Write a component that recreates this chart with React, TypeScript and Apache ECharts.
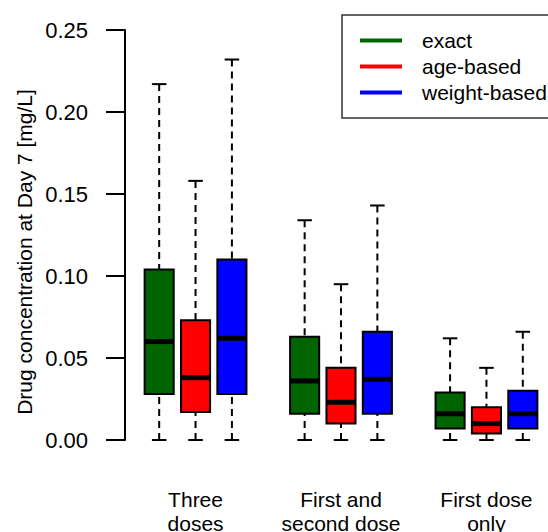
import React, { useEffect, useRef } from "react";
import * as echarts from "echarts";

const groups = ["Three\ndoses", "First and\nsecond dose", "First dose\nonly"];
const methods = ["exact", "age-based", "weight-based"];
const groupPositions = [2, 6, 10];
// [min, q1, median, q3, max] per group
const exactStats = [
  [0, 0.028, 0.060, 0.104, 0.217],
  [0, 0.016, 0.036, 0.063, 0.134],
  [0, 0.007, 0.016, 0.029, 0.062],
];
const ageStats = [
  [0, 0.017, 0.038, 0.073, 0.158],
  [0, 0.010, 0.023, 0.044, 0.095],
  [0, 0.004, 0.010, 0.020, 0.044],
];
const weightStats = [
  [0, 0.028, 0.062, 0.110, 0.232],
  [0, 0.016, 0.037, 0.066, 0.143],
  [0, 0.007, 0.016, 0.030, 0.066],
];
const allStats = [exactStats, ageStats, weightStats];
const colors = ["#006400", "#FF0000", "#0000FF"];
const FONT = "'Liberation Sans', Arial, Helvetica, sans-serif";

function makeRender(color: string) {
  return (params: any, api: any) => {
    const x = api.value(0);
    const [xc, yMin] = api.coord([x, api.value(1)]);
    const yQ1 = api.coord([x, api.value(2)])[1];
    const yMed = api.coord([x, api.value(3)])[1];
    const yQ3 = api.coord([x, api.value(4)])[1];
    const yMax = api.coord([x, api.value(5)])[1];
    const halfW = api.size([0.8, 0])[0] / 2;
    const capHalf = api.size([0.4, 0])[0] / 2;
    const dash = { stroke: "#000", lineWidth: 2, lineDash: [7, 5] };
    const solid = { stroke: "#000", lineWidth: 2 };
    return {
      type: "group",
      children: [
        { type: "line", shape: { x1: xc, y1: yMin, x2: xc, y2: yQ1 }, style: dash },
        { type: "line", shape: { x1: xc, y1: yMax, x2: xc, y2: yQ3 }, style: dash },
        { type: "line", shape: { x1: xc - capHalf, y1: yMin, x2: xc + capHalf, y2: yMin }, style: solid },
        { type: "line", shape: { x1: xc - capHalf, y1: yMax, x2: xc + capHalf, y2: yMax }, style: solid },
        {
          type: "rect",
          shape: { x: xc - halfW, y: yQ3, width: halfW * 2, height: yQ1 - yQ3 },
          style: { fill: color, stroke: "#000", lineWidth: 2 },
        },
        {
          type: "line",
          shape: { x1: xc - halfW, y1: yMed, x2: xc + halfW, y2: yMed },
          style: { stroke: "#000", lineWidth: 5 },
        },
      ],
    };
  };
}

export default function App() {
  const ref = useRef<HTMLDivElement>(null);
  useEffect(() => {
    document.body.style.margin = "0";
    const chart = echarts.init(ref.current!, null, { renderer: "svg" });
    const series = methods.map((name, m) => ({
      name,
      type: "custom",
      itemStyle: { color: colors[m] },
      renderItem: makeRender(colors[m]),
      encode: { x: 0, y: [1, 2, 3, 4, 5] },
      data: allStats[m].map((s, g) => [groupPositions[g] - 1 + m, ...s]),
    }));
    chart.setOption({
      animation: false,
      backgroundColor: "#fff",
      textStyle: { fontFamily: FONT },
      grid: { left: 125, top: 30, width: 432, height: 410, outerBoundsMode: "none", containLabel: false },
      xAxis: {
        type: "value",
        min: 0.06,
        max: 11.94,
        axisLine: { show: false },
        axisTick: { show: false },
        splitLine: { show: false },
        axisLabel: {
          customValues: groupPositions,
          formatter: (v: number) => groups[groupPositions.indexOf(Math.round(v))] ?? "",
          fontSize: 21,
          lineHeight: 24,
          color: "#000",
          margin: 47,
          fontFamily: FONT,
        },
      },
      yAxis: {
        type: "value",
        min: 0,
        max: 0.25,
        interval: 0.05,
        axisLine: { show: true, onZero: false, lineStyle: { color: "#000", width: 2 } },
        axisTick: { show: true, length: 19, lineStyle: { color: "#000", width: 2 } },
        splitLine: { show: false },
        axisLabel: {
          formatter: (v: number) => v.toFixed(2),
          fontSize: 22,
          color: "#000",
          margin: 37,
          fontFamily: FONT,
        },
      },
      legend: {
        data: methods,
        orient: "vertical",
        left: 342,
        top: 15,
        padding: [15, 18, 15, 18],
        itemWidth: 42,
        itemHeight: 4,
        itemGap: 5,
        icon: "rect",
        borderWidth: 0,
        textStyle: { fontSize: 21, lineHeight: 21, color: "#000", fontFamily: FONT, padding: [0, 0, 0, 15] },
      },
      graphic: [
        {
          type: "rect",
          x: 342,
          y: 15,
          shape: { x: 0, y: 0, width: 240, height: 103 },
          style: { fill: "none", stroke: "#333", lineWidth: 1.5 },
        },
        {
          type: "text",
          x: 24,
          y: 252,
          rotation: Math.PI / 2,
          style: {
            text: "Drug concentration at Day 7 [mg/L]",
            fontSize: 21,
            fill: "#000",
            align: "center",
            verticalAlign: "middle",
            fontFamily: FONT,
          },
        },
      ],
      series,
    });
    return () => chart.dispose();
  }, []);
  return <div ref={ref} style={{ position: "fixed", left: 0, top: 0, width: 548, height: 532 }} />;
}
